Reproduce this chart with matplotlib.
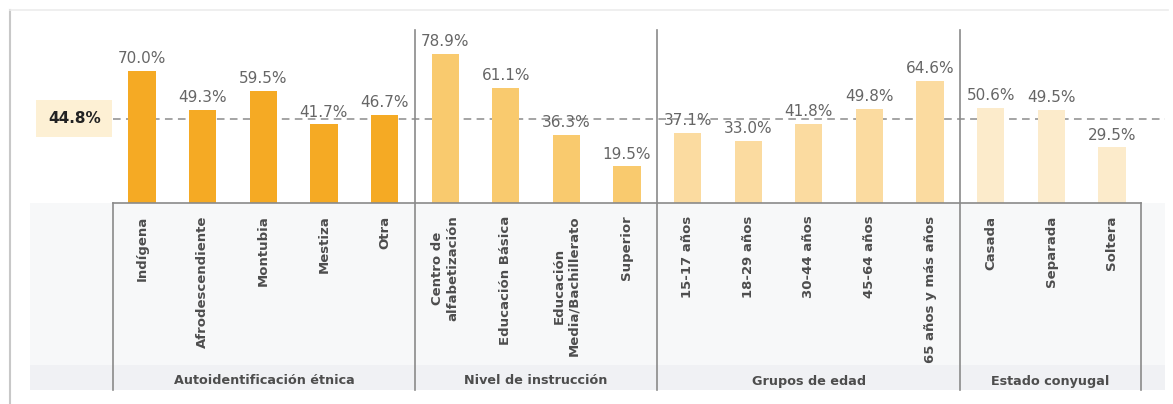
import matplotlib
matplotlib.use("Agg")
import matplotlib.pyplot as plt
from matplotlib.patches import Rectangle

plt.rcParams["font.family"] = ["DejaVu Sans"]

# datos
categorias = ["Indígena", "Afrodescendiente", "Montubia", "Mestiza", "Otra",
              "Centro de\nalfabetización", "Educación Básica", "Educación\nMedia/Bachillerato", "Superior",
              "15-17 años", "18-29 años", "30-44 años", "45-64 años", "65 años y más años",
              "Casada", "Separada", "Soltera"]
valores = [70.0, 49.3, 59.5, 41.7, 46.7,
           78.9, 61.1, 36.3, 19.5,
           37.1, 33.0, 41.8, 49.8, 64.6,
           50.6, 49.5, 29.5]
grupos = ["Autoidentificación étnica", "Nivel de instrucción", "Grupos de edad", "Estado conyugal"]
tam_grupos = [5, 4, 5, 3]
colores_grupo = ["#f5aa24", "#f9ca6e", "#fbdba0", "#fcebcb"]
promedio = 44.8

W, H = 1173, 404
fig = plt.figure(figsize=(W / 100, H / 100), dpi=100)
fig.patch.set_facecolor("white")

# marco de la lámina
bg = fig.add_axes([0, 0, 1, 1], zorder=-5)
bg.set_xlim(0, W); bg.set_ylim(H, 0); bg.axis("off")
bg.add_patch(Rectangle((30, 203), 1135, 187, facecolor="#f7f8f9", edgecolor="none"))
bg.add_patch(Rectangle((30, 365), 1135, 25, facecolor="#f0f1f4", edgecolor="none"))
bg.plot([10, 10], [10, 404], color="#c8c8c8", lw=1.5)
bg.plot([10, 1168], [10, 10], color="#ececec", lw=1.2)

# ejes de barras: x de -0.48 a 16.48 sobre px 113..1141, base en px 203
px_y = 1.886
ax = fig.add_axes([113 / W, (H - 203) / H, 1028 / W, 173 / H])
ax.set_xlim(-0.48, 16.48)
ax.set_ylim(0, 173 / px_y)
ax.patch.set_alpha(0)

colores = []
for c, n in zip(colores_grupo, tam_grupos):
    colores += [c] * n
x = list(range(len(valores)))
ax.bar(x, valores, width=0.45, color=colores, zorder=2)
for xi, v in zip(x, valores):
    ax.text(xi, v + 2.5, f"{v:.1f}%", ha="center", va="bottom", fontsize=11, color="#666666", zorder=3)

for s in ("top", "right", "left"):
    ax.spines[s].set_visible(False)
ax.spines["bottom"].set_color("#8a8a8a")
ax.spines["bottom"].set_linewidth(1.2)
ax.set_yticks([])
ax.set_xticks(x)
ax.set_xticklabels(categorias, rotation=90, fontsize=9.5, fontweight="bold", color="#4d4d4d",
                   multialignment="center", va="top", ha="center")
ax.tick_params(axis="x", length=0, pad=9)

# línea de promedio
y_bot = -(390 - 203) / px_y
ax.plot([-0.48, 16.88], [promedio, promedio], ls=(0, (5, 3.5)), color="#8c8c8c", lw=1.1,
        clip_on=False, zorder=1)
ax.text(-1.12, promedio, f"{promedio}%", ha="center", va="center", fontsize=11, fontweight="bold",
        color="#222222", clip_on=False,
        bbox=dict(boxstyle="square,pad=0.75", facecolor="#fdf0d4", edgecolor="none"))

# caja de categorías y separadores
lc = "#8a8a8a"
ax.plot([-0.48, -0.48], [0, y_bot], color=lc, lw=1.2, clip_on=False)
ax.plot([16.48, 16.48], [0, y_bot], color=lc, lw=1.2, clip_on=False)
lim = -0.5
for n in tam_grupos[:-1]:
    lim += n
    ax.plot([lim, lim], [173 / px_y, y_bot], color=lc, lw=1.2, clip_on=False)

inicio = -0.48
for g, n in zip(grupos, tam_grupos):
    fin = inicio + n if g != grupos[-1] else 16.48
    if g == grupos[0]:
        fin = 4.5
    ax.text((inicio + fin) / 2, -(381 - 203) / px_y, g, ha="center", va="center", fontsize=9.2,
            fontweight="bold", color="#4d4d4d", clip_on=False)
    inicio = fin

fig.savefig("out.png", dpi=100)
